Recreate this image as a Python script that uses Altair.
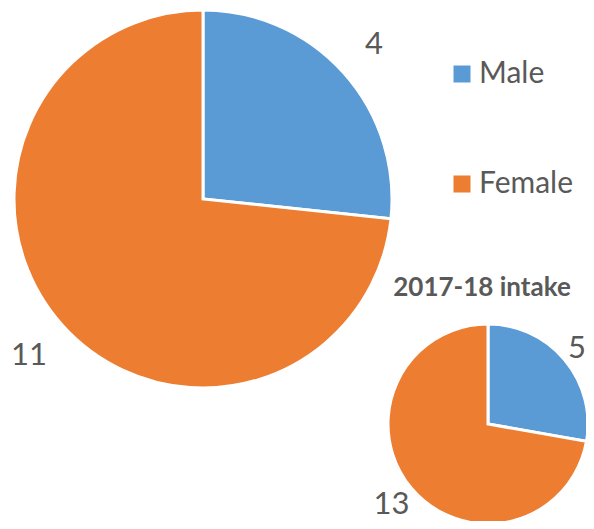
import altair as alt
import pandas as pd

genders = ["Male", "Female"]
big_values = [4, 11]
small_values = [5, 13]
small_title = "2017-18 intake"
colors = ["#5B9BD5", "#ED7D31"]

df_big = pd.DataFrame({"gender": genders, "value": big_values, "rank": [0, 1]})
df_small = pd.DataFrame({"gender": genders, "value": small_values, "rank": [0, 1]})

FONT = "Lato"
TXT = "#595959"

color_enc = alt.Color(
    "gender:N",
    scale=alt.Scale(domain=genders, range=colors),
    legend=alt.Legend(title=None),
)


def pie(df, cx, cy, r, lr_male, lr_female):
    arc = alt.Chart(df).mark_arc(radius=r, stroke="white", strokeWidth=3).encode(
        theta=alt.Theta("value:Q", stack=True),
        order=alt.Order("rank:Q"),
        color=color_enc,
        x=alt.value(cx),
        y=alt.value(cy),
    )
    txt = alt.Chart(df).mark_text(fontSize=31, font=FONT, color=TXT).encode(
        theta=alt.Theta("value:Q", stack=True),
        radius=alt.value(alt.expr(f"datum.gender === 'Male' ? {lr_male} : {lr_female}")),
        order=alt.Order("rank:Q"),
        detail="gender:N",
        text="value:Q",
        x=alt.value(cx),
        y=alt.value(cy),
    )
    return alt.layer(arc, txt)


big = pie(df_big, 195, 191, 189, 230, 234)
small = pie(df_small, 480, 416, 100, 116, 126)

title = alt.Chart(pd.DataFrame({"t": [small_title]})).mark_text(
    fontWeight="bold", fontSize=26, font=FONT, color=TXT
).encode(text="t:N", x=alt.value(474), y=alt.value(280))

chart = (
    alt.layer(big, small, title)
    .resolve_scale(theta="independent")
    .properties(width=578, height=513, padding=0, autosize=alt.AutoSizeParams(type="none"))
    .configure_view(stroke=None)
    .configure_legend(
        orient="none",
        legendX=439,
        legendY=51,
        padding=0,
        symbolType="square",
        symbolSize=289,
        symbolStrokeWidth=0,
        symbolOpacity=1,
        labelFont=FONT,
        labelFontSize=30,
        labelColor=TXT,
        labelOffset=2,
        rowPadding=80,
    )
)

chart.save("out.html", embed_options={"renderer": "svg", "actions": False})
